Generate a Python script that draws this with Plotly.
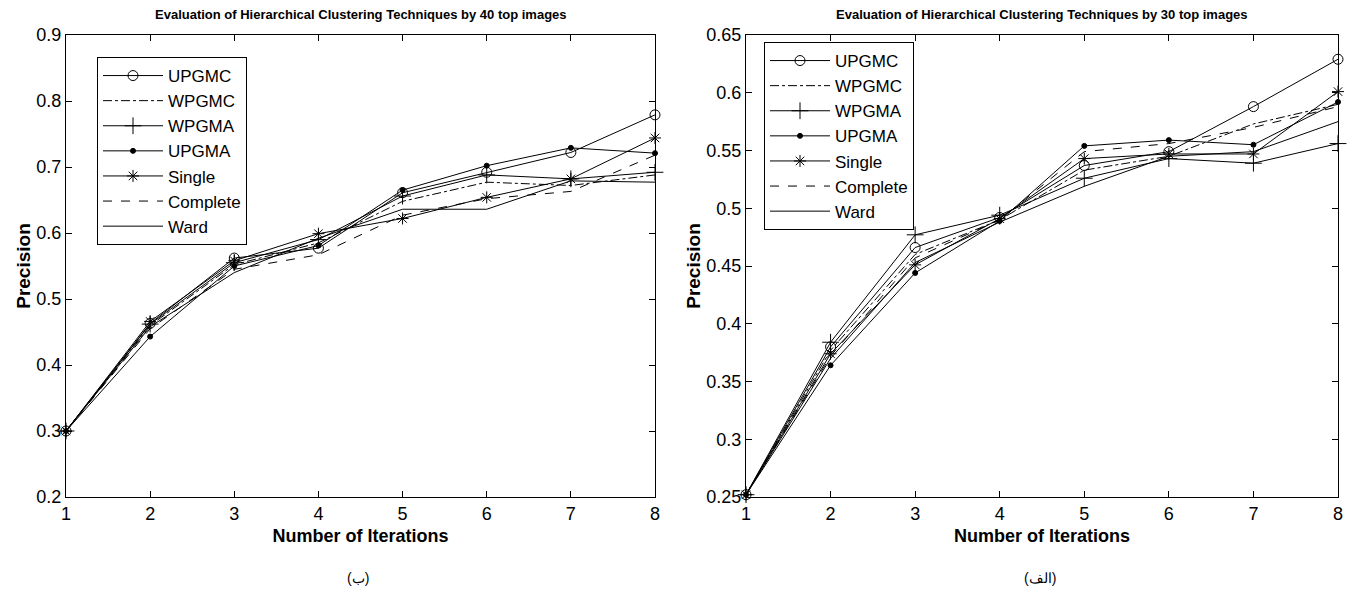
import plotly.graph_objects as go

iterations = [1, 2, 3, 4, 5, 6, 7, 8]
methods = ["UPGMC", "WPGMC", "WPGMA", "UPGMA", "Single", "Complete", "Ward"]

# 40 top images (left, "(ب)")
p40_upgmc    = [0.300, 0.463, 0.562, 0.577, 0.661, 0.692, 0.722, 0.779]
p40_wpgmc    = [0.300, 0.460, 0.552, 0.585, 0.648, 0.677, 0.672, 0.688]
p40_wpgma    = [0.300, 0.462, 0.555, 0.590, 0.656, 0.688, 0.682, 0.692]
p40_upgma    = [0.300, 0.443, 0.550, 0.581, 0.665, 0.702, 0.729, 0.721]
p40_single   = [0.300, 0.466, 0.558, 0.599, 0.622, 0.654, 0.682, 0.744]
p40_complete = [0.300, 0.455, 0.545, 0.567, 0.627, 0.652, 0.663, 0.718]
p40_ward     = [0.300, 0.458, 0.540, 0.592, 0.636, 0.636, 0.679, 0.677]

# 30 top images (right, "(الف)")
p30_upgmc    = [0.252, 0.380, 0.466, 0.492, 0.537, 0.549, 0.588, 0.629]
p30_wpgmc    = [0.252, 0.377, 0.460, 0.490, 0.533, 0.545, 0.573, 0.590]
p30_wpgma    = [0.252, 0.384, 0.477, 0.494, 0.526, 0.543, 0.539, 0.556]
p30_upgma    = [0.252, 0.364, 0.444, 0.489, 0.554, 0.559, 0.555, 0.592]
p30_single   = [0.252, 0.374, 0.451, 0.491, 0.543, 0.547, 0.547, 0.601]
p30_complete = [0.252, 0.372, 0.457, 0.490, 0.549, 0.556, 0.570, 0.588]
p30_ward     = [0.252, 0.370, 0.453, 0.488, 0.519, 0.545, 0.549, 0.575]

left_series = [p40_upgmc, p40_wpgmc, p40_wpgma, p40_upgma, p40_single, p40_complete, p40_ward]
right_series = [p30_upgmc, p30_wpgmc, p30_wpgma, p30_upgma, p30_single, p30_complete, p30_ward]

left_title = "Evaluation of Hierarchical Clustering Techniques by 40 top images"
right_title = "Evaluation of Hierarchical Clustering Techniques by 30 top images"
left_yticks = [0.2, 0.3, 0.4, 0.5, 0.6, 0.7, 0.8, 0.9]
right_yticks = [0.25, 0.3, 0.35, 0.4, 0.45, 0.5, 0.55, 0.6, 0.65]

styles = {
    "UPGMC":    dict(dash="solid",   mode="lines+markers", symbol="circle-open", size=10),
    "WPGMC":    dict(dash="dashdot", mode="lines",         symbol=None,          size=0),
    "WPGMA":    dict(dash="solid",   mode="lines+markers", symbol="cross-thin-open", size=12),
    "UPGMA":    dict(dash="solid",   mode="lines+markers", symbol="circle",      size=5),
    "Single":   dict(dash="solid",   mode="lines+markers", symbol="asterisk-open", size=10),
    "Complete": dict(dash="dash",    mode="lines",         symbol=None,          size=0),
    "Ward":     dict(dash="solid",   mode="lines",         symbol=None,          size=0),
}

fig = go.Figure()

def add_series(series, xaxis, yaxis, legend):
    for name, vals in zip(methods, series):
        st = styles[name]
        marker = dict(color="black", size=st["size"], line=dict(color="black", width=1))
        if st["symbol"]:
            marker["symbol"] = st["symbol"]
        fig.add_trace(go.Scatter(
            x=iterations, y=vals, name=name, mode=st["mode"],
            line=dict(color="black", width=1, dash=st["dash"]),
            marker=marker, xaxis=xaxis, yaxis=yaxis, legend=legend,
            cliponaxis=False,
        ))

add_series(left_series, "x", "y", "legend")
add_series(right_series, "x2", "y2", "legend2")

# the page has an 8px body margin, so the figure is laid out 8px smaller
OFF = 8
W, H = 1356 - OFF, 594 - OFF
PL, PR, PT, PB = 66, 1338, 35, 497          # plot area in page pixels
ml, mt = PL - OFF, PT - OFF
mr, mb = W - (PR - OFF), H - (PB - OFF)
pw = PR - PL
ph = PB - PT

def px_x(p):
    return (p - PL) / pw

def px_y(p):
    return 1 - (p - PT) / ph

axis_common = dict(
    showline=True, linecolor="black", linewidth=1, mirror="ticks",
    ticks="inside", ticklen=6, tickcolor="black", tickwidth=1,
    showgrid=False, zeroline=False,
    tickfont=dict(family="Arial", size=18, color="black"),
)
xtitle = dict(text="<b>Number of Iterations</b>", font=dict(size=18), standoff=6)
ytitle = dict(text="<b>Precision</b>", font=dict(size=19), standoff=0)

fig.update_layout(
    width=W, height=H,
    margin=dict(l=ml, r=mr, t=mt, b=mb),
    paper_bgcolor="white", plot_bgcolor="white",
    font=dict(family="Arial", color="black"),
    xaxis=dict(domain=[0, px_x(655)], range=[1, 8], tickvals=iterations, anchor="y",
               title=xtitle, **axis_common),
    yaxis=dict(domain=[0, 1], range=[0.2, 0.9], tickvals=left_yticks, anchor="x",
               title=ytitle, **axis_common),
    xaxis2=dict(domain=[px_x(746), 1], range=[1, 8], tickvals=iterations, anchor="y2",
                title=xtitle, **axis_common),
    yaxis2=dict(domain=[0, 1], range=[0.25, 0.65], tickvals=right_yticks, anchor="x2",
                title=ytitle, **axis_common),
    legend=dict(x=px_x(97), y=px_y(57), xanchor="left", yanchor="top",
                bgcolor="white", bordercolor="black", borderwidth=1,
                font=dict(family="Arial", size=17, color="black"), itemwidth=60,
                tracegroupgap=0),
    legend2=dict(x=px_x(764), y=px_y(42), xanchor="left", yanchor="top",
                 bgcolor="white", bordercolor="black", borderwidth=1,
                 font=dict(family="Arial", size=17, color="black"), itemwidth=60,
                 tracegroupgap=0),
    showlegend=True,
)

fig.add_annotation(text="<b>" + left_title + "</b>", xref="paper", yref="paper",
                   x=(px_x(66) + px_x(655)) / 2, y=px_y(15), showarrow=False,
                   font=dict(size=13, family="Arial"), xanchor="center", yanchor="middle")
fig.add_annotation(text="<b>" + right_title + "</b>", xref="paper", yref="paper",
                   x=(px_x(746) + px_x(1338)) / 2, y=px_y(15), showarrow=False,
                   font=dict(size=13, family="Arial"), xanchor="center", yanchor="middle")
fig.add_annotation(text="(ب)", xref="paper", yref="paper", x=px_x(358), y=px_y(578),
                   showarrow=False, font=dict(size=14, family="Arial"),
                   xanchor="center", yanchor="middle")
fig.add_annotation(text="(الف)", xref="paper", yref="paper", x=px_x(1040), y=px_y(578),
                   showarrow=False, font=dict(size=14, family="Arial"),
                   xanchor="center", yanchor="middle")

fig.write_html("out.html", config={"displayModeBar": False})
